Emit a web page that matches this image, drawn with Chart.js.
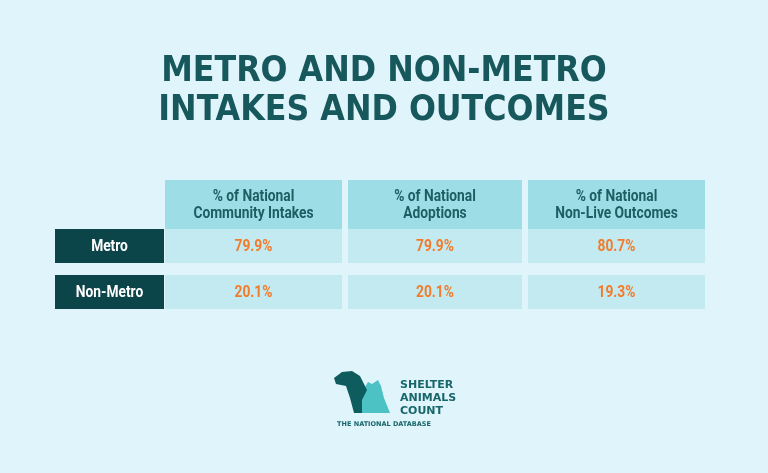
<!DOCTYPE html>
<html><head><meta charset="utf-8">
<script src="https://cdn.jsdelivr.net/npm/chart.js@4"></script>
<style>html,body{margin:0;padding:0;background:#e0f4fb}#w{width:768px;height:473px}</style>
</head><body><div id="w"><canvas id="c"></canvas></div>
<script>
const titleLines = ['METRO AND NON-METRO', 'INTAKES AND OUTCOMES'];
const columnHeaders = [['% of National','Community Intakes'],['% of National','Adoptions'],['% of National','Non-Live Outcomes']];
const rowLabels = ['Metro','Non-Metro'];
const metroValues = [79.9, 79.9, 80.7];
const nonMetroValues = [20.1, 20.1, 19.3];

const rowBands = [[0,49],[49,83],[95,129]]; // header, metro, non-metro (y units)
const GAP = 6;

function narrowText(ctx, t, x, y, sx){
  ctx.save(); ctx.translate(x,y); ctx.scale(sx,1); ctx.fillText(t,0,0); ctx.restore();
}

const tablePlugin = {
  id: 'table',
  beforeDraw(chart){
    const ctx = chart.ctx;
    ctx.save();
    ctx.fillStyle = '#e0f4fb';
    ctx.fillRect(0,0,chart.width,chart.height);
    ctx.restore();
  },
  afterDraw(chart){
    const ctx = chart.ctx, xs = chart.scales.x, ys = chart.scales.y;
    const step = xs.getPixelForValue(1) - xs.getPixelForValue(0);
    const colX = i => [xs.getPixelForValue(i) - step/2 + (i>0?GAP/2:0), xs.getPixelForValue(i) + step/2 - (i<2?GAP/2:0)];
    const band = r => [ys.getPixelForValue(rowBands[r][0]), ys.getPixelForValue(rowBands[r][1])];
    ctx.save();
    ctx.fillStyle = '#17585d';
    ctx.textAlign = 'center'; ctx.textBaseline = 'middle';
    ctx.font = 'bold 36px "DejaVu Sans Condensed", "DejaVu Sans", sans-serif';
    narrowText(ctx, titleLines[0], 384, 72, 0.98);
    narrowText(ctx, titleLines[1], 384, 111, 0.98);
    const f = 'bold 16px "Roboto", sans-serif';
    columnHeaders.forEach((h,i)=>{
      const [x0,x1] = colX(i), [y0,y1] = band(0);
      ctx.fillStyle = '#9ddde6'; ctx.fillRect(x0,y0,x1-x0,y1-y0);
      ctx.fillStyle = '#1d5e63'; ctx.font = f;
      narrowText(ctx, h[0], (x0+x1)/2, y0+17, 0.86);
      narrowText(ctx, h[1], (x0+x1)/2, y0+34, 0.86);
    });
    const rows = [metroValues, nonMetroValues];
    rows.forEach((vals,r)=>{
      const [y0,y1] = band(r+1);
      ctx.fillStyle = '#0c4549'; ctx.fillRect(55,y0,109,y1-y0);
      ctx.fillStyle = '#ffffff'; ctx.font = f;
      narrowText(ctx, rowLabels[r], 109.5, (y0+y1)/2+1, 0.86);
      vals.forEach((v,i)=>{
        const [x0,x1] = colX(i);
        ctx.fillStyle = '#c3eaf0'; ctx.fillRect(x0,y0,x1-x0,y1-y0);
        ctx.fillStyle = '#f27b2c'; ctx.font = f;
        narrowText(ctx, v.toFixed(1)+'%', (x0+x1)/2, (y0+y1)/2+1, 0.86);
      });
    });
    // logo
    ctx.fillStyle = '#4cc2c4';
    ctx.beginPath();
    ctx.moveTo(362,413); ctx.lineTo(362,392); ctx.lineTo(368,382); ctx.lineTo(372,384); ctx.lineTo(378,380); ctx.lineTo(381,386);
    ctx.lineTo(384,398); ctx.lineTo(390,413); ctx.closePath(); ctx.fill();
    ctx.fillStyle = '#0f5c5f';
    ctx.beginPath();
    ctx.moveTo(334,378); ctx.lineTo(342,372); ctx.lineTo(352,371); ctx.lineTo(360,376); ctx.lineTo(367,390); ctx.lineTo(362,400);
    ctx.lineTo(362,413); ctx.lineTo(354,413); ctx.lineTo(350,398); ctx.lineTo(346,386); ctx.lineTo(336,384); ctx.closePath(); ctx.fill();
    ctx.fillStyle = '#17676a'; ctx.textAlign = 'left';
    ctx.font = 'bold 11px "DejaVu Sans", sans-serif';
    ctx.fillText('SHELTER', 400, 385); ctx.fillText('ANIMALS', 400, 398); ctx.fillText('COUNT', 400, 411);
    ctx.font = 'bold 6.5px "DejaVu Sans", sans-serif'; ctx.textAlign = 'center';
    ctx.fillText('THE NATIONAL DATABASE', 384, 424);
    ctx.restore();
  }
};

new Chart(document.getElementById('c'), {
  type: 'bar',
  data: {
    labels: columnHeaders.map(h=>h.join(' ')),
    datasets: [
      {label: rowLabels[0], data: metroValues, backgroundColor: 'transparent'},
      {label: rowLabels[1], data: nonMetroValues, backgroundColor: 'transparent'}
    ]
  },
  options: {
    responsive: true, maintainAspectRatio: false, animation: false,
    layout: {padding: {left: 165, right: 63, top: 180, bottom: 164}},
    plugins: {legend: {display: false}, tooltip: {enabled: false}},
    scales: {
      x: {display: false, offset: true},
      y: {display: false, min: 0, max: 129, reverse: true}
    }
  },
  plugins: [tablePlugin]
});
</script></body></html>
